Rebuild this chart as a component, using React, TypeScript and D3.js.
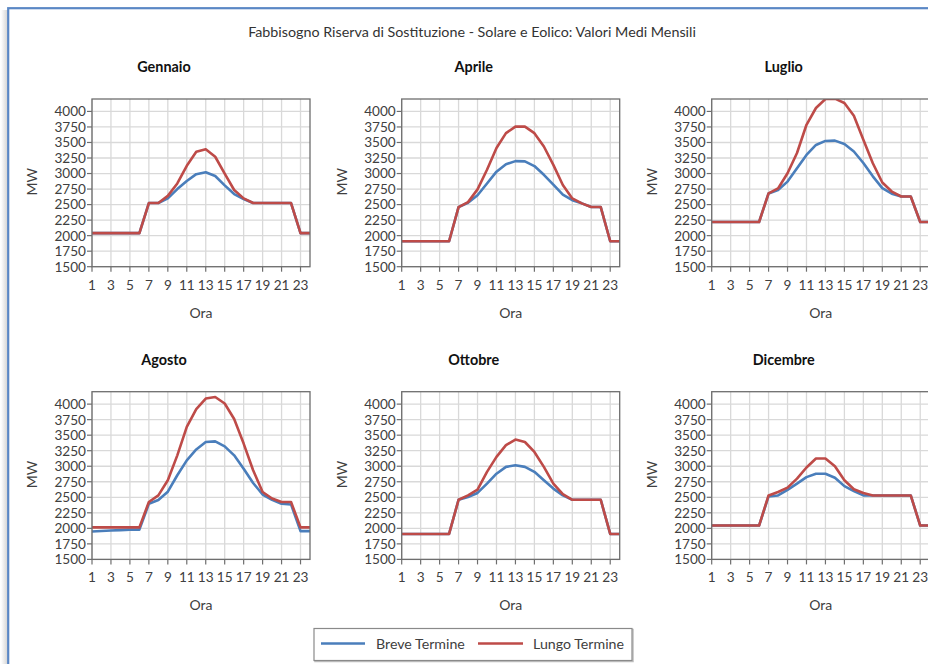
import React from "react";
import * as d3 from "d3";

// Hours of the day (x categories)
const hours = [1, 2, 3, 4, 5, 6, 7, 8, 9, 10, 11, 12, 13, 14, 15, 16, 17, 18, 19, 20, 21, 22, 23, 24];
const xTickValues = [1, 3, 5, 7, 9, 11, 13, 15, 17, 19, 21, 23];
const yTickValues = [1500, 1750, 2000, 2250, 2500, 2750, 3000, 3250, 3500, 3750, 4000];

const months = ["Gennaio", "Aprile", "Luglio", "Agosto", "Ottobre", "Dicembre"];

// Breve Termine (short-term) hourly values, MW
const breveGennaio = [2040, 2040, 2040, 2040, 2040, 2040, 2525, 2525, 2600, 2750, 2880, 2990, 3020, 2960, 2810, 2670, 2590, 2525, 2525, 2525, 2525, 2525, 2040, 2040];
const breveAprile = [1910, 1910, 1910, 1910, 1910, 1910, 2460, 2530, 2650, 2840, 3030, 3150, 3200, 3195, 3120, 2980, 2820, 2660, 2570, 2520, 2460, 2460, 1910, 1910];
const breveLuglio = [2220, 2220, 2220, 2220, 2220, 2220, 2680, 2735, 2870, 3085, 3300, 3460, 3525, 3530, 3475, 3355, 3170, 2955, 2765, 2675, 2630, 2630, 2220, 2220];
const breveAgosto = [1950, 1958, 1965, 1972, 1980, 1980, 2395, 2455, 2590, 2855, 3095, 3270, 3390, 3400, 3320, 3175, 2960, 2730, 2545, 2460, 2395, 2385, 1955, 1955];
const breveOttobre = [1910, 1910, 1910, 1910, 1910, 1910, 2460, 2505, 2570, 2720, 2880, 2990, 3015, 2990, 2910, 2775, 2640, 2530, 2460, 2460, 2460, 2460, 1910, 1910];
const breveDicembre = [2045, 2045, 2045, 2045, 2045, 2045, 2515, 2530, 2620, 2720, 2825, 2880, 2880, 2815, 2680, 2600, 2530, 2530, 2530, 2530, 2530, 2530, 2045, 2045];

// Lungo Termine (long-term) hourly values, MW
const lungoGennaio = [2040, 2040, 2040, 2040, 2040, 2040, 2525, 2525, 2640, 2840, 3125, 3350, 3390, 3270, 3000, 2735, 2600, 2525, 2525, 2525, 2525, 2525, 2040, 2040];
const lungoAprile = [1910, 1910, 1910, 1910, 1910, 1910, 2460, 2540, 2745, 3060, 3410, 3650, 3755, 3755, 3650, 3435, 3140, 2815, 2600, 2520, 2460, 2460, 1910, 1910];
const lungoLuglio = [2220, 2220, 2220, 2220, 2220, 2220, 2680, 2760, 3005, 3330, 3785, 4055, 4200, 4205, 4135, 3930, 3545, 3165, 2855, 2710, 2630, 2630, 2220, 2220];
const lungoAgosto = [2015, 2015, 2015, 2015, 2015, 2015, 2425, 2530, 2775, 3175, 3635, 3920, 4090, 4115, 4010, 3760, 3365, 2935, 2585, 2480, 2425, 2425, 2015, 2015];
const lungoOttobre = [1910, 1910, 1910, 1910, 1910, 1910, 2460, 2530, 2625, 2910, 3150, 3340, 3430, 3390, 3230, 2990, 2720, 2550, 2460, 2460, 2460, 2460, 1910, 1910];
const lungoDicembre = [2045, 2045, 2045, 2045, 2045, 2045, 2530, 2585, 2655, 2800, 2980, 3125, 3125, 3000, 2775, 2630, 2570, 2530, 2530, 2530, 2530, 2530, 2045, 2045];

const breveSeries = [breveGennaio, breveAprile, breveLuglio, breveAgosto, breveOttobre, breveDicembre];
const lungoSeries = [lungoGennaio, lungoAprile, lungoLuglio, lungoAgosto, lungoOttobre, lungoDicembre];

const seriesNames = ["Breve Termine", "Lungo Termine"];
const seriesColors = ["#4A7EBB", "#BE4B48"];

const mainTitle = "Fabbisogno Riserva di Sostituzione - Solare e Eolico: Valori Medi Mensili";

const FONT = "Lato, 'Open Sans', sans-serif";
const TEXT = "#404040";

const PLOT_W = 218;
const PLOT_H = 167.7;
const COL_X = [92, 401.7, 711.7];
const ROW_Y = [99, 391.7];

const x = d3.scaleLinear().domain([1, 24]).range([0, PLOT_W]);
const y = d3.scaleLinear().domain([1500, 4200]).range([PLOT_H, 0]);

const line = d3
  .line<number>()
  .x((_, i) => x(hours[i]))
  .y((d) => y(d));

function Panel({ idx }: { idx: number }) {
  const col = idx % 3;
  const row = Math.floor(idx / 3);
  const left = COL_X[col];
  const top = ROW_Y[row];
  const clipId = `clip-${idx}`;
  return (
    <g transform={`translate(${left},${top})`}>
      <text
        x={72}
        y={-27}
        textAnchor="middle"
        fontFamily={FONT}
        fontWeight="bold"
        fontSize={14.4}
        fill="#111"
      >
        {months[idx]}
      </text>
      <clipPath id={clipId}>
        <rect x={0} y={0} width={PLOT_W} height={PLOT_H} />
      </clipPath>
      {/* grid */}
      {yTickValues.map((v) => (
        <line key={`gy${v}`} x1={0} x2={PLOT_W} y1={y(v)} y2={y(v)} stroke="#D9D9D9" strokeWidth={1.3} />
      ))}
      {xTickValues.map((h) => (
        <line key={`gx${h}`} x1={x(h)} x2={x(h)} y1={0} y2={PLOT_H} stroke="#D9D9D9" strokeWidth={1.3} />
      ))}
      {/* series */}
      <g clipPath={`url(#${clipId})`}>
        <path d={line(breveSeries[idx]) || ""} fill="none" stroke={seriesColors[0]} strokeWidth={2.6} strokeLinejoin="round" />
        <path d={line(lungoSeries[idx]) || ""} fill="none" stroke={seriesColors[1]} strokeWidth={2.6} strokeLinejoin="round" />
      </g>
      {/* frame */}
      <rect x={0} y={0} width={PLOT_W} height={PLOT_H} fill="none" stroke="#6E6E6E" strokeWidth={1.3} />
      {/* y axis */}
      {yTickValues.map((v) => (
        <g key={`ty${v}`}>
          <line x1={-5} x2={0} y1={y(v)} y2={y(v)} stroke="#6E6E6E" strokeWidth={1.2} />
          <text x={-6} y={y(v)} dy="0.36em" textAnchor="end" fontFamily={FONT} fontSize={13.6} fill={TEXT}>
            {v}
          </text>
        </g>
      ))}
      {/* x axis */}
      {xTickValues.map((h) => (
        <g key={`tx${h}`}>
          <line x1={x(h)} x2={x(h)} y1={PLOT_H} y2={PLOT_H + 5} stroke="#6E6E6E" strokeWidth={1.2} />
          <text x={x(h)} y={PLOT_H + 23} textAnchor="middle" fontFamily={FONT} fontSize={13.6} fill={TEXT}>
            {h}
          </text>
        </g>
      ))}
      <text
        transform={`translate(${-55},${PLOT_H / 2 - 1}) rotate(-90)`}
        textAnchor="middle"
        fontFamily={FONT}
        fontSize={14}
        fill={TEXT}
      >
        MW
      </text>
      <text x={109} y={PLOT_H + 51} textAnchor="middle" fontFamily={FONT} fontSize={14} fill={TEXT}>
        Ora
      </text>
    </g>
  );
}

function Legend() {
  const lx = 314;
  const ly = 628.5;
  const items = [
    { x1: 321, x2: 365, tx: 376 },
    { x1: 478, x2: 523, tx: 533 },
  ];
  return (
    <g>
      <rect x={lx + 1} y={ly + 1} width={318} height={32} fill="none" stroke="#BFBFBF" strokeWidth={1.5} />
      <rect x={lx} y={ly} width={318} height={32} fill="#fff" stroke="#8A8A8A" strokeWidth={1.2} />
      {items.map((it, i) => (
        <g key={seriesNames[i]}>
          <line x1={it.x1} x2={it.x2} y1={ly + 15} y2={ly + 15} stroke={seriesColors[i]} strokeWidth={2.6} />
          <text x={it.tx} y={ly + 15} dy="0.36em" fontFamily={FONT} fontSize={14.2} fill={TEXT}>
            {seriesNames[i]}
          </text>
        </g>
      ))}
    </g>
  );
}

export default function App() {
  return (
    <svg
      width={928}
      height={664}
      viewBox="0 0 928 664"
      style={{ position: "absolute", left: 0, top: 0, display: "block", background: "#fff" }}
    >
      <defs>
        <linearGradient id="leftShade" x1="0" x2="1" y1="0" y2="0">
          <stop offset="0" stopColor="#ffffff" />
          <stop offset="1" stopColor="#D4D4D4" />
        </linearGradient>
      </defs>
      <rect x={0} y={0} width={928} height={664} fill="#fff" />
      <rect x={1} y={10} width={6.5} height={660} fill="url(#leftShade)" />
      <rect x={8.2} y={8.2} width={940} height={680} fill="#fff" stroke="#5A87C5" strokeWidth={2.2} />
      <text x={472} y={36.5} textAnchor="middle" fontFamily={FONT} fontSize={14.3} fill="#333">
        {mainTitle}
      </text>
      {months.map((m, i) => (
        <Panel key={m} idx={i} />
      ))}
      <Legend />
    </svg>
  );
}
